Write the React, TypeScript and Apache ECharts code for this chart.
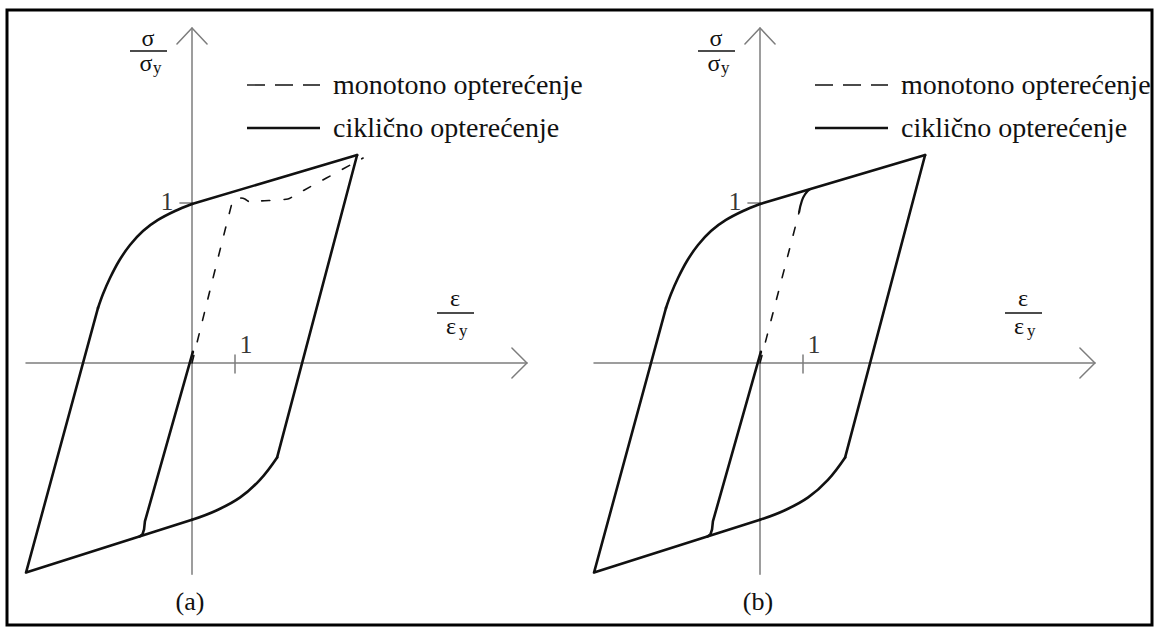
import { useEffect, useRef } from "react";
import * as echarts from "echarts";

type Pt = [number, number];

// Normalised strain ε/εy (x) and stress σ/σy (y).
const strainAxis: Pt[] = [[-3.86, 0], [7.79, 0]];
const stressAxis: Pt[] = [[0, -1.32], [0, 2.094]];
const strainArrow: Pt[] = [[7.44, 0.094], [7.79, 0], [7.44, -0.094]];
const stressArrow: Pt[] = [[-0.35, 1.994], [0, 2.094], [0.35, 1.994]];
const tickValue = 1;
const strainTick: Pt[] = [[tickValue, 0.05], [tickValue, -0.0625]];
const stressTick: Pt[] = [[-0.28, tickValue], [0, tickValue]];

// Cyclic hysteresis loop, split into straight and rounded branches.
const loopTopBranch: Pt[] = [[3.84, 1.3], [0, 0.994]];
const loopUpperKnee: Pt[] = [
  [0, 0.994], [-0.395, 0.95], [-0.791, 0.894], [-1.14, 0.825], [-1.442, 0.7375],
  [-1.698, 0.6375], [-1.907, 0.531], [-2.07, 0.431], [-2.186, 0.344],
];
const loopLeftBranch: Pt[] = [[-2.186, 0.344], [-3.86, -1.31], [0, -0.98]];
const loopLowerKnee: Pt[] = [
  [0, -0.98], [0.58, -0.92], [1.12, -0.84], [1.58, -0.73], [1.98, -0.59],
];
const loopRightBranch: Pt[] = [[1.98, -0.59], [3.84, 1.3]];
const reloadBranch: Pt[] = [
  [-1.22, -1.084], [-1.15, -1.07], [-1.115, -1.04], [-1.095, -0.99], [0.02, 0.07],
];

// Monotonic loading curves.
const monotonicA: Pt[] = [
  [0, 0], [0.93, 1.0], [1.0, 1.025], [1.12, 1.031], [1.23, 1.025],
  [1.35, 1.006], [1.58, 1.0125], [2.23, 1.025], [2.4, 1.05], [3.98, 1.281],
];
const monotonicBElastic: Pt[] = [[0, 0], [0.91, 0.944]];
const monotonicBYield: Pt[] = [[0.91, 0.944], [0.97, 1.01], [1.05, 1.056], [1.163, 1.087]];

const legendLabels = ["monotono opterećenje", "ciklično opterećenje"];
const captions = ["(a)", "(b)"];

const FONT = "Liberation Serif";
const INK = "#111111";
const AXIS_GREY = "#7d7d7d";
const PANEL_SHIFT = 568;

function line(i: number, data: Pt[], color: string, width: number, type: any = "solid", smooth: any = false) {
  return {
    type: "line",
    xAxisIndex: i,
    yAxisIndex: i,
    data,
    symbol: "none",
    showSymbol: false,
    silent: true,
    smooth,
    lineStyle: { color, width, type, cap: "round", join: "round" },
  };
}

function tickLabel(i: number, point: Pt, offset: number[]) {
  return {
    type: "scatter",
    xAxisIndex: i,
    yAxisIndex: i,
    symbolSize: 0,
    silent: true,
    data: [point],
    label: {
      show: true,
      position: "inside",
      offset,
      formatter: String(tickValue),
      fontFamily: FONT,
      fontSize: 26,
      color: "#000000",
    },
  };
}

function panelSeries(i: number, dashed: Pt[], yieldPart: Pt[]) {
  const s: any[] = [
    line(i, strainAxis, AXIS_GREY, 1.5),
    line(i, stressAxis, AXIS_GREY, 1.5),
    line(i, strainArrow, AXIS_GREY, 1.5),
    line(i, stressArrow, AXIS_GREY, 1.5),
    line(i, strainTick, AXIS_GREY, 1.5),
    line(i, stressTick, AXIS_GREY, 1.5),
    line(i, loopTopBranch, INK, 2.6),
    line(i, loopUpperKnee, INK, 2.6, "solid", 0.3),
    line(i, loopLeftBranch, INK, 2.6),
    line(i, loopLowerKnee, INK, 2.6, "solid", 0.4),
    line(i, loopRightBranch, INK, 2.6),
    line(i, reloadBranch, INK, 2.6),
    line(i, dashed, INK, 1.6, [8, 14], 0.25),
    tickLabel(i, [tickValue, 0], [11, -19]),
    tickLabel(i, [0, tickValue], [-25, -2]),
  ];
  if (yieldPart.length) s.push(line(i, yieldPart, INK, 2.2, "solid", 0.5));
  return s;
}

function txt(x: number, y: number, text: string, size: number, align = "center") {
  return {
    type: "text",
    x,
    y,
    silent: true,
    style: {
      text,
      fontFamily: FONT,
      fontSize: size,
      fill: INK,
      textAlign: align,
      align,
      textVerticalAlign: "middle",
      verticalAlign: "middle",
    },
  };
}

function seg(x1: number, y1: number, x2: number, y2: number, width: number, dash?: number[]) {
  return {
    type: "line",
    silent: true,
    shape: { x1, y1, x2, y2 },
    style: { stroke: INK, lineWidth: width, lineDash: dash },
  };
}

function panelGraphics(dx: number, caption: string) {
  return [
    // σ / σy
    txt(148 + dx, 38, "σ", 24),
    seg(130 + dx, 51, 167 + dx, 51, 1.3),
    txt(146 + dx, 63, "σ", 24),
    txt(153 + dx, 67, "y", 17, "left"),
    // ε / εy near the end of the strain axis
    txt(455 + dx, 298, "ε", 24),
    seg(437 + dx, 313, 474 + dx, 313, 1.3),
    txt(451 + dx, 326, "ε", 24),
    txt(459 + dx, 330, "y", 17, "left"),
    // legend
    seg(247 + dx, 85, 320 + dx, 85, 1.4, [18, 10]),
    txt(333 + dx, 84, legendLabels[0], 28, "left"),
    seg(247 + dx, 128, 320 + dx, 128, 2.6),
    txt(333 + dx, 127, legendLabels[1], 28, "left"),
    // caption
    txt(190 + dx, 601, caption, 26),
  ];
}

export default function App() {
  const ref = useRef<HTMLDivElement>(null);

  useEffect(() => {
    if (!ref.current) return;
    const chart = echarts.init(ref.current, undefined, { renderer: "svg" });
    const grid = (left: number) => ({ left, top: 27, width: 516, height: 576 });
    chart.setOption({
      animation: false,
      backgroundColor: "#ffffff",
      grid: [grid(20), grid(20 + PANEL_SHIFT)],
      xAxis: [0, 1].map((i) => ({ type: "value", gridIndex: i, min: -4, max: 8, show: false })),
      yAxis: [0, 1].map((i) => ({ type: "value", gridIndex: i, min: -1.5, max: 2.1, show: false })),
      series: [
        ...panelSeries(0, monotonicA, []),
        ...panelSeries(1, monotonicBElastic, monotonicBYield),
      ],
      graphic: {
        elements: [
          {
            type: "rect",
            silent: true,
            shape: { x: 7, y: 10, width: 1145, height: 615 },
            style: { fill: "none", stroke: "#000000", lineWidth: 3 },
          },
          ...panelGraphics(0, captions[0]),
          ...panelGraphics(PANEL_SHIFT, captions[1]),
        ],
      },
    });
    return () => chart.dispose();
  }, []);

  return (
    <div
      ref={ref}
      style={{ position: "absolute", left: 0, top: 0, width: 1159, height: 634 }}
    />
  );
}
